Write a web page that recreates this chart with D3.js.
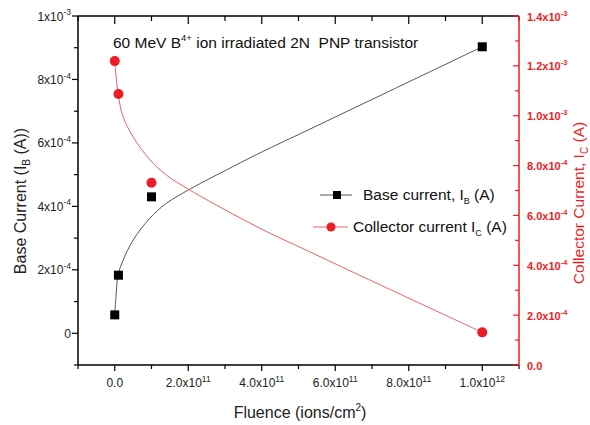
<!DOCTYPE html>
<html><head><meta charset="utf-8">
<script src="https://cdn.jsdelivr.net/npm/d3@7"></script>
<style>body{margin:0;background:#fff}svg{font-family:"Liberation Sans",Arial,sans-serif}</style>
</head><body><svg id="c" width="590" height="425"></svg>
<script>
// ---- data ----
const fluence = [0, 1e10, 1e11, 1e12];
const baseCurrent = [5.8e-5, 1.83e-4, 4.3e-4, 9.03e-4];
const collectorCurrent = [1.219e-3, 1.087e-3, 7.31e-4, 1.31e-4];
// fitted curves
const baseFitX = [0, 2.7e9, 9e9, 2.26e10, 4.97e10, 9.5e10, 1.4e11, 2.04e11, 3.21e11, 4.03e11, 5.03e11, 7.2e11, 1e12];
const baseFitY = [6.2e-5, 1.04e-4, 1.83e-4, 2.30e-4, 2.93e-4, 3.62e-4, 4.09e-4, 4.54e-4, 5.25e-4, 5.73e-4, 6.28e-4, 7.48e-4, 9.03e-4];
const collFitX = [0, 9e9, 2.26e10, 4.97e10, 9.51e10, 1.405e11, 2.04e11, 3.21e11, 4.12e11, 5.03e11, 7.2e11, 1e12];
const collFitY = [1.219e-3, 1.090e-3, 9.96e-4, 9.16e-4, 8.24e-4, 7.62e-4, 7.02e-4, 6.06e-4, 5.36e-4, 4.73e-4, 3.23e-4, 1.31e-4];
const xTicks = [0, 2e11, 4e11, 6e11, 8e11, 1e12];
const xTickLabels = [["0.0",""],["2.0x10","11"],["4.0x10","11"],["6.0x10","11"],["8.0x10","11"],["1.0x10","12"]];
const leftTicks = [0, 2e-4, 4e-4, 6e-4, 8e-4, 1e-3];
const leftTickLabels = [["0",""],["2x10","-4"],["4x10","-4"],["6x10","-4"],["8x10","-4"],["1x10","-3"]];
const rightTicks = [0, 2e-4, 4e-4, 6e-4, 8e-4, 1e-3, 1.2e-3, 1.4e-3];
const rightTickLabels = [["0.0",""],["2.0x10","-4"],["4.0x10","-4"],["6.0x10","-4"],["8.0x10","-4"],["1.0x10","-3"],["1.2x10","-3"],["1.4x10","-3"]];

const RED = "#ee1c24";
const svg = d3.select("#c");
const L = 78, R = 519, T = 16, B = 365;
const x = d3.scaleLinear().domain([-1e11, 1.1e12]).range([L, R]);
const yL = d3.scaleLinear().domain([-1e-4, 1e-3]).range([B, T]);
const yR = d3.scaleLinear().domain([0, 1.4e-3]).range([B, T]);

function supText(g, parts, size, supSize) {
  g.append("tspan").text(parts[0]);
  if (parts[1]) g.append("tspan").attr("dy", -size*0.45).attr("font-size", supSize).text(parts[1]);
}

const xMinor = d3.range(-1e11, 1.1e12 + 1, 1e11);
const lMinor = d3.range(-1e-4, 1e-3 + 1e-9, 1e-4);
const rMinor = d3.range(0, 1.4e-3 + 1e-9, 1e-4);

const ax = svg.append("g").attr("stroke-linecap", "butt");
ax.append("line").attr("x1", L).attr("x2", R).attr("y1", B).attr("y2", B).attr("stroke", "#000").attr("stroke-width", 1.5);
xMinor.forEach(v => {
  const major = xTicks.some(t => Math.abs(t - v) < 1);
  ax.append("line").attr("x1", x(v)).attr("x2", x(v)).attr("y1", B).attr("y2", B + (major ? 6 : 4)).attr("stroke", "#000").attr("stroke-width", 1.2);
  ax.append("line").attr("x1", x(v)).attr("x2", x(v)).attr("y1", T).attr("y2", T + (major ? 8 : 5)).attr("stroke", "#000").attr("stroke-width", 1.2);
});
ax.append("line").attr("x1", L).attr("x2", R).attr("y1", T).attr("y2", T).attr("stroke", "#000").attr("stroke-width", 1.5);
ax.append("line").attr("x1", L).attr("x2", L).attr("y1", T).attr("y2", B).attr("stroke", "#000").attr("stroke-width", 1.5);
lMinor.forEach(v => {
  const major = leftTicks.some(t => Math.abs(t - v) < 1e-9);
  ax.append("line").attr("x1", L).attr("x2", L - (major ? 6 : 4)).attr("y1", yL(v)).attr("y2", yL(v)).attr("stroke", "#000").attr("stroke-width", 1.2);
});
ax.append("line").attr("x1", R).attr("x2", R).attr("y1", T).attr("y2", B).attr("stroke", RED).attr("stroke-width", 1.5);
rMinor.forEach(v => {
  const major = rightTicks.some(t => Math.abs(t - v) < 1e-9);
  ax.append("line").attr("x1", R).attr("x2", R - (major ? 6 : 4)).attr("y1", yR(v)).attr("y2", yR(v)).attr("stroke", RED).attr("stroke-width", 1.2);
});

xTicks.forEach((v, i) => {
  const t = svg.append("text").attr("x", x(v)).attr("y", 387).attr("text-anchor", "middle").attr("font-size", 12).attr("fill", "#222");
  supText(t, xTickLabels[i], 12, 8.5);
});
leftTicks.forEach((v, i) => {
  const t = svg.append("text").attr("x", 71).attr("y", yL(v) + 4.5).attr("text-anchor", "end").attr("font-size", 12).attr("fill", "#222");
  supText(t, leftTickLabels[i], 12, 8.5);
});
rightTicks.forEach((v, i) => {
  const t = svg.append("text").attr("x", 527).attr("y", yR(v) + 4.5).attr("text-anchor", "start").attr("font-size", 11).attr("font-weight", "bold").attr("fill", RED);
  supText(t, rightTickLabels[i], 11, 7.5);
});

const xt = svg.append("text").attr("x", 300).attr("y", 418).attr("text-anchor", "middle").attr("font-size", 16).attr("fill", "#222");
xt.append("tspan").text("Fluence (ions/cm");
xt.append("tspan").attr("dy", -7).attr("font-size", 10).text("2");
xt.append("tspan").attr("dy", 7).text(")");

const lt = svg.append("text").attr("transform", "translate(26,201) rotate(-90)").attr("text-anchor", "middle").attr("font-size", 16).attr("fill", "#222");
lt.append("tspan").text("Base Current (I");
lt.append("tspan").attr("dy", 4).attr("font-size", 10).text("B");
lt.append("tspan").attr("dy", -4).text(" (A))");

const rt = svg.append("text").attr("transform", "translate(584,203) rotate(-90)").attr("text-anchor", "middle").attr("font-size", 15.5).attr("fill", RED);
rt.append("tspan").text("Collector Current, I");
rt.append("tspan").attr("dy", 4).attr("font-size", 10).text("C");
rt.append("tspan").attr("dy", -4).text(" (A)");

const tt = svg.append("text").attr("x", 113).attr("y", 48).attr("font-size", 15.5).attr("fill", "#111");
tt.append("tspan").text("60 MeV B");
tt.append("tspan").attr("dy", -7).attr("font-size", 9.5).text("4+");
tt.append("tspan").attr("dy", 7).text(" ion irradiated 2N\u00a0 PNP transistor");

const lineL = d3.line().x(d => x(d[0])).y(d => yL(d[1])).curve(d3.curveCatmullRom.alpha(0.5));
const lineR = d3.line().x(d => x(d[0])).y(d => yR(d[1])).curve(d3.curveCatmullRom.alpha(0.5));
svg.append("path").attr("d", lineL(baseFitX.map((v, i) => [v, baseFitY[i]]))).attr("fill", "none").attr("stroke", "#555").attr("stroke-width", 1);
svg.append("path").attr("d", lineR(collFitX.map((v, i) => [v, collFitY[i]]))).attr("fill", "none").attr("stroke", "#f06060").attr("stroke-width", 1);

fluence.forEach((v, i) => {
  svg.append("rect").attr("x", x(v) - 4.5).attr("y", yL(baseCurrent[i]) - 4.5).attr("width", 9).attr("height", 9).attr("fill", "#000");
  svg.append("circle").attr("cx", x(v)).attr("cy", yR(collectorCurrent[i])).attr("r", 5).attr("fill", RED);
});

const lg = svg.append("g");
lg.append("line").attr("x1", 320).attr("x2", 352).attr("y1", 195).attr("y2", 195).attr("stroke", "#555").attr("stroke-width", 1);
lg.append("rect").attr("x", 333).attr("y", 191).attr("width", 8).attr("height", 8).attr("fill", "#000");
const l1 = lg.append("text").attr("x", 363).attr("y", 200).attr("font-size", 15.5).attr("fill", "#111");
l1.append("tspan").text("Base current, I");
l1.append("tspan").attr("dy", 4).attr("font-size", 9).text("B");
l1.append("tspan").attr("dy", -4).text(" (A)");
lg.append("line").attr("x1", 313).attr("x2", 348).attr("y1", 227).attr("y2", 227).attr("stroke", "#f06060").attr("stroke-width", 1);
lg.append("circle").attr("cx", 331).attr("cy", 227).attr("r", 4.5).attr("fill", RED);
const l2 = lg.append("text").attr("x", 353).attr("y", 232).attr("font-size", 15.5).attr("fill", "#111");
l2.append("tspan").text("Collector current I");
l2.append("tspan").attr("dy", 4).attr("font-size", 9).text("C");
l2.append("tspan").attr("dy", -4).text(" (A)");
</script></body></html>
